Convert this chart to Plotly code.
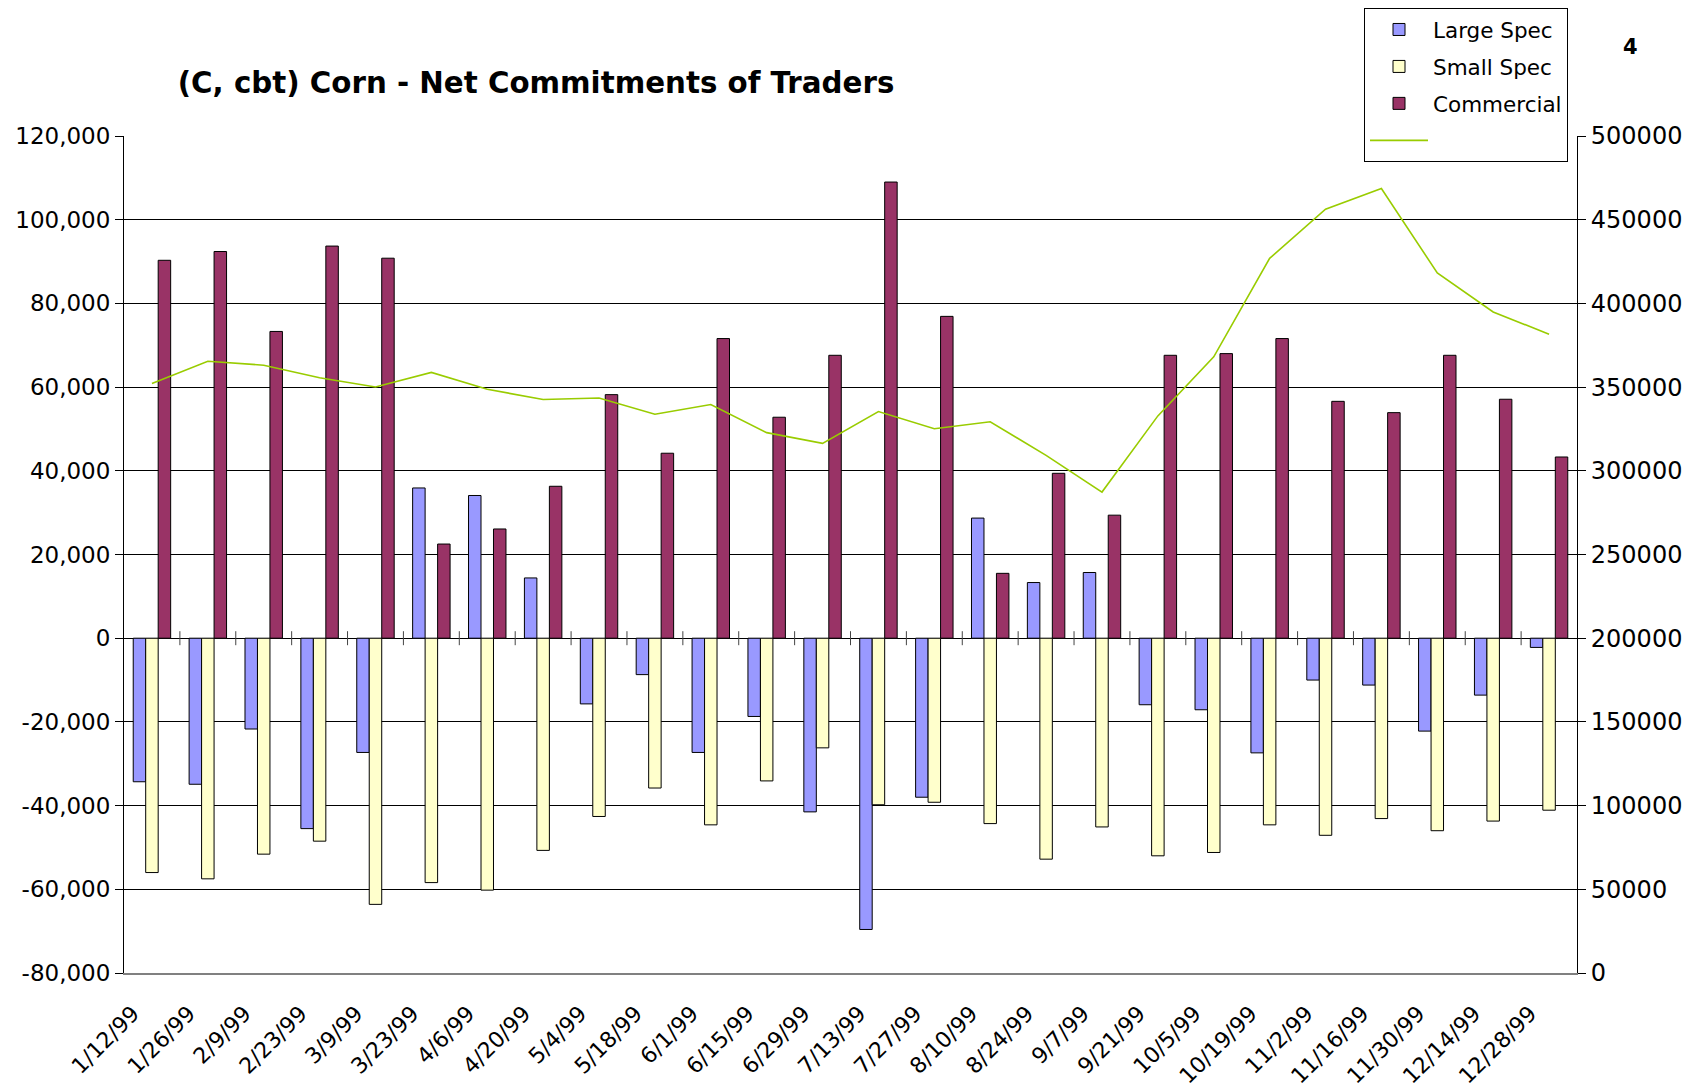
import plotly.graph_objects as go

dates = ["1/12/99", "1/26/99", "2/9/99", "2/23/99", "3/9/99", "3/23/99", "4/6/99",
         "4/20/99", "5/4/99", "5/18/99", "6/1/99", "6/15/99", "6/29/99", "7/13/99",
         "7/27/99", "8/10/99", "8/24/99", "9/7/99", "9/21/99", "10/5/99", "10/19/99",
         "11/2/99", "11/16/99", "11/30/99", "12/14/99", "12/28/99"]

large_spec = [-34300, -34900, -21700, -45500, -27300, 35900, 34100, 14400, -15700,
              -8700, -27300, -18700, -41500, -69600, -38000, 28700, 13300, 15700,
              -15900, -17100, -27400, -10000, -11200, -22200, -13600, -2200]

small_spec = [-56000, -57500, -51600, -48500, -63600, -58400, -60200, -50700, -42600,
              -35800, -44600, -34100, -26200, -39800, -39200, -44300, -52800, -45100,
              -52000, -51200, -44600, -47100, -43100, -46000, -43700, -41100]

commercial = [90300, 92400, 73300, 93700, 90800, 22500, 26100, 36300, 58200,
              44200, 71600, 52800, 67600, 109000, 76900, 15500, 39400, 29400,
              67600, 68000, 71600, 56600, 53900, 67600, 57100, 43300]

open_interest = [352100, 365400, 363100, 355600, 350100, 358800, 348700, 342600, 343500,
                 333800, 339600, 322800, 316400, 335400, 325100, 329300, 309200, 287300,
                 332800, 368100, 426900, 456300, 468600, 418200, 394900, 381600]

left_ticks = [-80000, -60000, -40000, -20000, 0, 20000, 40000, 60000, 80000, 100000, 120000]
left_tick_labels = ["-80,000", "-60,000", "-40,000", "-20,000", "0", "20,000", "40,000",
                    "60,000", "80,000", "100,000", "120,000"]
right_ticks = [0, 50000, 100000, 150000, 200000, 250000, 300000, 350000, 400000, 450000, 500000]

x = list(range(len(dates)))
FONT = "DejaVu Sans, Verdana, sans-serif"

fig = go.Figure()
fig.add_trace(go.Bar(x=x, y=large_spec, name="Large Spec", legendgroup="a",
                     marker=dict(color="#9999FF", line=dict(color="#000000", width=1))))
fig.add_trace(go.Bar(x=x, y=small_spec, name="Small Spec", legendgroup="b",
                     marker=dict(color="#FFFFCC", line=dict(color="#000000", width=1))))
fig.add_trace(go.Bar(x=x, y=commercial, name="Commercial", legendgroup="c",
                     marker=dict(color="#993366", line=dict(color="#000000", width=1))))
fig.add_trace(go.Scatter(x=x, y=open_interest, name=" ", mode="lines", yaxis="y2",
                         legendgroup="d", line=dict(color="#99CC00", width=1.6)))
# category divider ticks on the zero line
fig.add_trace(go.Scatter(x=[i + 0.5 for i in x[:-1]], y=[0] * (len(x) - 1), mode="markers",
                         marker=dict(symbol="line-ns", size=10, line=dict(color="#444444", width=1)),
                         showlegend=False, hoverinfo="skip"))

W, H = 1685, 1081
fig.update_layout(
    width=W, height=H,
    margin=dict(l=116, r=116, t=128, b=116, autoexpand=False),
    paper_bgcolor="white", plot_bgcolor="white",
    barmode="group", bargap=0.33, bargroupgap=0,
    font=dict(family=FONT, color="#000000", size=21),
    title=dict(text="<b>(C, cbt) Corn - Net Commitments of Traders</b>",
               xref="container", x=528 / W, xanchor="center",
               yref="container", y=1 - 75 / H, yanchor="middle",
               font=dict(family=FONT, size=29.3, color="#000000")),
    legend=dict(xref="container", yref="container", x=1356 / W, y=1.0,
                xanchor="left", yanchor="top",
                bgcolor="white", bordercolor="#000000", borderwidth=1,
                font=dict(family=FONT, size=21.5, color="#000000"),
                tracegroupgap=6, itemwidth=58),
    hovermode=False,
    xaxis=dict(range=[-0.5, len(x) - 0.5], tickmode="array", tickvals=x, ticktext=dates,
               tickangle=-45, ticks="", showgrid=False, zeroline=False, automargin=False,
               showline=True, linecolor="#808080", linewidth=2,
               ticklabelstandoff=17, ticklabelshift=-19,
               tickfont=dict(family=FONT, size=22)),
    yaxis=dict(range=[-80000, 120000], tickmode="array", tickvals=left_ticks,
               ticktext=left_tick_labels, automargin=False,
               showgrid=True, gridcolor="#000000", gridwidth=1,
               zeroline=True, zerolinecolor="#000000", zerolinewidth=1,
               showline=True, linecolor="#000000", linewidth=1,
               ticks="outside", ticklen=8, tickcolor="#000000",
               tickfont=dict(family=FONT, size=23)),
    yaxis2=dict(range=[0, 500000], tickmode="array", tickvals=right_ticks,
                overlaying="y", side="right", automargin=False,
                showgrid=False, zeroline=False,
                showline=True, linecolor="#000000", linewidth=1,
                ticks="outside", ticklen=8, tickcolor="#000000",
                tickformat="d",
                tickfont=dict(family=FONT, size=24)),
    annotations=[dict(text="<b>4</b>", xref="paper", yref="paper", x=1.037, y=1.106,
                      xanchor="center", yanchor="middle", showarrow=False,
                      font=dict(family=FONT, size=21, color="#000000"))],
)

fig.write_html("out.html")
